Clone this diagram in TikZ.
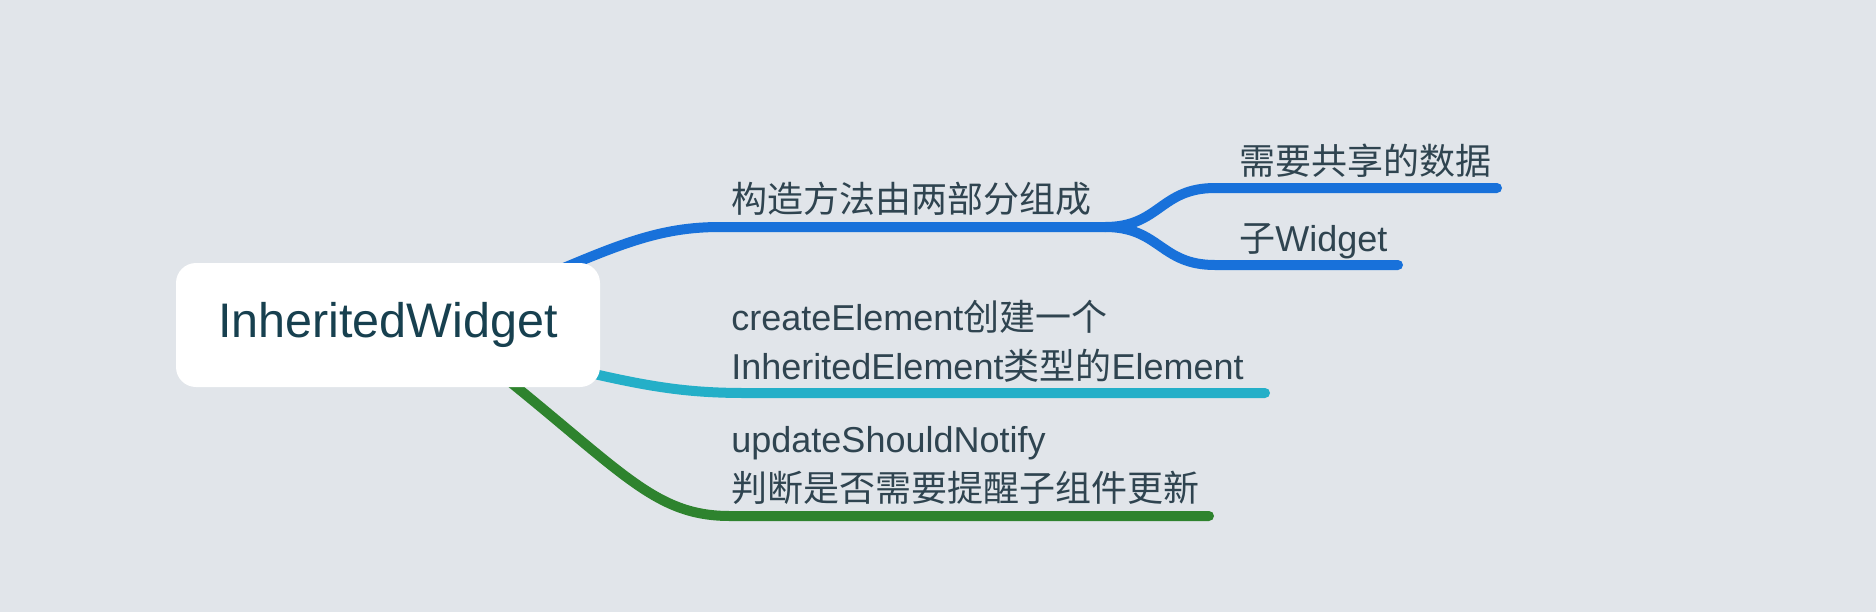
\documentclass[tikz,border=0pt]{standalone}
\usepackage{fontspec}
\setmainfont{Liberation Sans}
\newfontfamily\zhfont{Noto Sans CJK SC}
\newcommand{\zh}[1]{{\zhfont #1}}

\definecolor{bgcol}{HTML}{E1E5EA}
\definecolor{rootcol}{HTML}{17404F}
\definecolor{txtcol}{HTML}{2F4450}
\definecolor{blueline}{HTML}{1871DA}
\definecolor{cyanline}{HTML}{24AFC8}
\definecolor{greenline}{HTML}{2E832E}

\tikzset{
  rootbox/.style={fill=white, rounded corners=10pt, minimum width=212pt, minimum height=62pt,
    inner sep=0pt, text=rootcol, font=\fontsize{24.25}{29}\selectfont},
  topic/.style={anchor=base west, inner sep=0pt, text=txtcol, align=left,
    font=\fontsize{18}{24.5}\selectfont},
  branch/.style={line width=5pt, line cap=round},
}

\begin{document}
\begin{tikzpicture}[x=0.5pt, y=-0.5pt]
        % nền
        \fill[bgcol] (0,0) rectangle (1876,612);
        \useasboundingbox (0,0) rectangle (1876,612);

        % các điểm của đường nhánh
        \coordinate (r1) at (540,278);
        \coordinate (r2) at (560,366);
        \coordinate (r3) at (470,350);
        \coordinate (c1) at (720,227);
        \coordinate (fork) at (1105,227);
        \coordinate (d1) at (1215,188);
        \coordinate (d2) at (1497,188);
        \coordinate (e1) at (1215,265);
        \coordinate (e2) at (1398,265);
        \coordinate (f1) at (745,393);
        \coordinate (f2) at (1265,393);
        \coordinate (g1) at (730,516);
        \coordinate (g2) at (1209,516);

        % đường nhánh
        \draw[branch, blueline] (r1) .. controls (620,244) and (660,227) .. (c1) -- (fork);
        \draw[branch, blueline] (fork) .. controls (1160,227) and (1160,188) .. (d1) -- (d2);
        \draw[branch, blueline] (fork) .. controls (1160,227) and (1160,265) .. (e1) -- (e2);
        \draw[branch, cyanline] (r2) .. controls (640,385) and (680,393) .. (f1) -- (f2);
        \draw[branch, greenline] (r3) .. controls (620,467) and (650,516) .. (g1) -- (g2);

        % nút gốc
        \node[rootbox] (root) at (388,325) {InheritedWidget};

        % nhãn (mốc base = dòng cuối)
        \node[topic] (ctor) at (731,212) {\zh{构造方法由两部分组成}};
        \node[topic] (data) at (1239,174) {\zh{需要共享的数据}};
        \node[topic] (child) at (1239,251) {\zh{子}Widget};
        \node[topic] (create) at (731,379) {createElement\zh{创建一个}\\InheritedElement\zh{类型的}Element};
        \node[topic] (notify) at (731,501) {updateShouldNotify\\\zh{判断是否需要提醒子组件更新}};
    \end{tikzpicture}
\end{document}
